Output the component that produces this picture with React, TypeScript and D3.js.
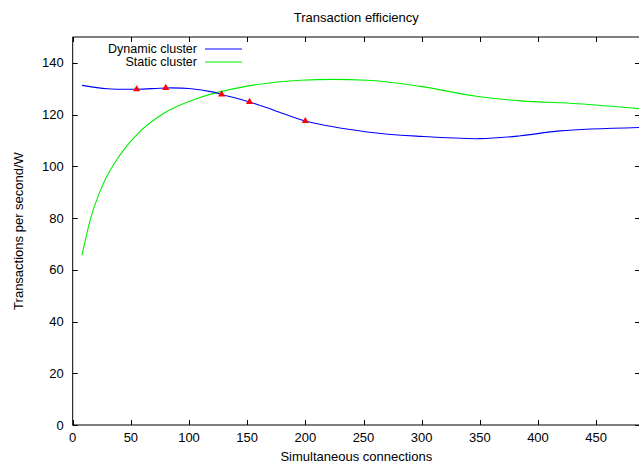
import React, { useRef, useEffect } from 'react';
import * as d3 from 'd3';

// Dynamic cluster (blue)
const dynamicX = [8, 30, 55, 80, 100, 121, 128, 152, 173, 200, 253, 299, 350, 385, 419, 487];
const dynamicY = [131.3, 130, 129.8, 130.3, 130.1, 128.7, 127.8, 124.9, 121.7, 117.5, 113.3, 111.6, 110.7, 111.8, 113.7, 115];
// measured points marked with red triangles
const markerX = [55, 80, 128, 152, 200];
const markerY = [129.8, 130.3, 127.8, 124.9, 117.5];
// Static cluster (green)
const staticX = [8, 15, 26, 41, 55, 78, 107, 150, 196, 224, 253, 299, 347, 385, 434, 487];
const staticY = [65.7, 79.2, 93.0, 104.6, 112.2, 120.4, 126.2, 131, 133.3, 133.6, 133.3, 130.9, 127.1, 125.3, 124.2, 122.3];

const xTicks = [0, 50, 100, 150, 200, 250, 300, 350, 400, 450];
const yTicks = [0, 20, 40, 60, 80, 100, 120, 140];
const legendNames = ['Dynamic cluster', 'Static cluster'];

const W = 639;
const H = 463;
const FONT = '"Liberation Sans", Arial, sans-serif';
const BLUE = '#0000ff';
const GREEN = '#00ee00';

const App = () => {
    const ref = useRef<SVGSVGElement>(null);

    useEffect(() => {
        const svg = d3.select(ref.current);
        svg.selectAll('*').remove();

        const left = 72.7, right = 640, top = 37, bottom = 425;
        const x = d3.scaleLinear().domain([0, 487.7]).range([left, right]);
        const y = d3.scaleLinear().domain([0, 150]).range([bottom, top]);

        // border: left, top, bottom (right edge is off the page)
        svg.append('path')
            .attr('d', `M${right},${top}H${left}V${bottom}H${right}`)
            .attr('fill', 'none')
            .attr('stroke', '#000')
            .attr('stroke-width', 1);

        const tick = 5;
        const g = svg.append('g').attr('stroke', '#000').attr('stroke-width', 1);
        xTicks.forEach(t => {
            const px = Math.round(x(t)) + 0.5;
            g.append('line').attr('x1', px).attr('x2', px).attr('y1', bottom).attr('y2', bottom - tick);
            g.append('line').attr('x1', px).attr('x2', px).attr('y1', top).attr('y2', top + tick);
        });
        yTicks.forEach(t => {
            const py = Math.round(y(t)) + 0.5;
            g.append('line').attr('x1', left).attr('x2', left + tick).attr('y1', py).attr('y2', py);
            g.append('line').attr('x1', right - tick).attr('x2', right).attr('y1', py).attr('y2', py);
        });

        const labels = svg.append('g')
            .attr('font-family', FONT)
            .attr('font-size', 13)
            .attr('fill', '#000');

        labels.selectAll('.xt').data(xTicks).enter()
            .append('text')
            .attr('x', d => x(d))
            .attr('y', bottom + 17)
            .attr('text-anchor', 'middle')
            .text(d => d);

        labels.selectAll('.yt').data(yTicks).enter()
            .append('text')
            .attr('x', left - 9)
            .attr('y', d => y(d) + 4.5)
            .attr('text-anchor', 'end')
            .text(d => d);

        labels.append('text')
            .attr('x', (left + right) / 2)
            .attr('y', 22)
            .attr('text-anchor', 'middle')
            .text('Transaction efficiency');

        labels.append('text')
            .attr('x', (left + right) / 2)
            .attr('y', 461)
            .attr('text-anchor', 'middle')
            .text('Simultaneous connections');

        labels.append('text')
            .attr('transform', `translate(23,${(top + bottom) / 2}) rotate(-90)`)
            .attr('text-anchor', 'middle')
            .text('Transactions per second/W');

        // curves
        const line = d3.line<number[]>()
            .x(i => x(i[0]))
            .y(i => y(i[1]));

        svg.append('defs').append('clipPath').attr('id', 'plot')
            .append('rect').attr('x', left).attr('y', top).attr('width', right - left).attr('height', bottom - top);

        const plot = svg.append('g').attr('clip-path', 'url(#plot)');

        plot.append('path')
            .datum(staticX.map((v, i) => [v, staticY[i]]))
            .attr('d', line.curve(d3.curveMonotoneX) as any)
            .attr('fill', 'none')
            .attr('stroke', GREEN)
            .attr('stroke-width', 1.1);

        plot.append('path')
            .datum(dynamicX.map((v, i) => [v, dynamicY[i]]))
            .attr('d', line.curve(d3.curveCatmullRom.alpha(0.5)) as any)
            .attr('fill', 'none')
            .attr('stroke', BLUE)
            .attr('stroke-width', 1.1);

        const tri = d3.symbol().type(d3.symbolTriangle).size(22);
        plot.selectAll('.m').data(markerX).enter()
            .append('path')
            .attr('d', tri)
            .attr('transform', (d, i) => `translate(${x(d)},${y(markerY[i])})`)
            .attr('fill', '#ff0000');

        // legend
        const colors = [BLUE, GREEN];
        legendNames.forEach((name, i) => {
            const ly = 49 + i * 13;
            labels.append('text')
                .attr('x', 197)
                .attr('y', ly + 4.3)
                .attr('font-size', 12.5)
                .attr('text-anchor', 'end')
                .text(name);
            svg.append('line')
                .attr('x1', 205).attr('x2', 242)
                .attr('y1', ly).attr('y2', ly)
                .attr('stroke', colors[i])
                .attr('stroke-width', 1.1);
        });
    }, []);

    return (
        <div style={{ position: 'absolute', left: 0, top: 0 }}>
            <svg ref={ref} width={W} height={H} style={{ display: 'block', background: '#fff' }}></svg>
        </div>
    );
};

export default App;
